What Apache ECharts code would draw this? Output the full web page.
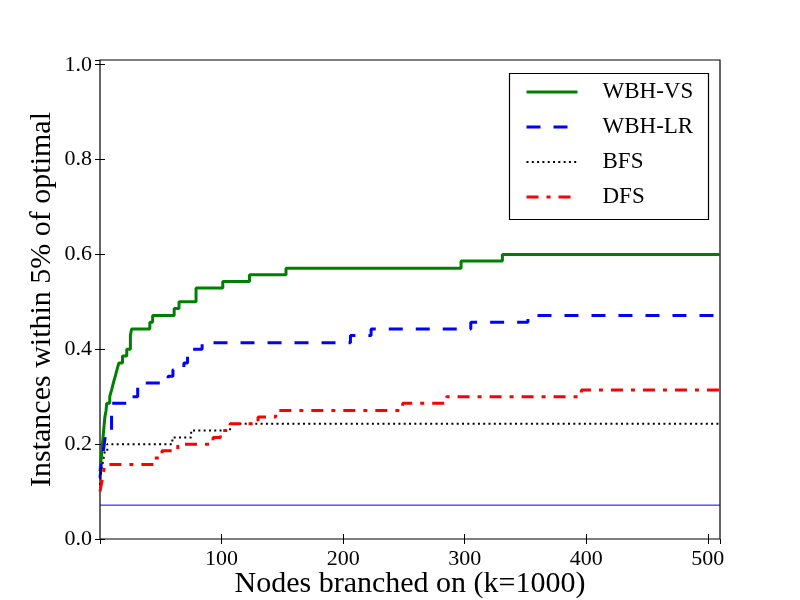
<!DOCTYPE html>
<html>
<head>
<meta charset="utf-8">
<script src="https://cdn.jsdelivr.net/npm/echarts@6/dist/echarts.min.js"></script>
<style>
  html, body { margin: 0; padding: 0; background: #fff; }
  #chart { width: 800px; height: 600px; }
</style>
</head>
<body>
<div id="chart"></div>
<script>
// step curves: [nodes branched (k), fraction of instances within 5%]
var wbhVs = [
  [0, 0.143], [1, 0.171], [2, 0.2], [3, 0.229], [4, 0.257], [5, 0.271],
  [5.5, 0.286], [8, 0.3], [9.5, 0.314], [11, 0.329], [12.5, 0.343],
  [14, 0.357], [15.5, 0.371], [18.5, 0.386], [22, 0.4], [25, 0.429],
  [26, 0.443], [41, 0.457], [43.3, 0.471], [61, 0.486], [65, 0.5],
  [79, 0.529], [101, 0.543], [123, 0.557], [153, 0.571], [297, 0.586],
  [331, 0.6], [510, 0.6]
];
var wbhLr = [
  [0, 0.129], [1, 0.157], [2, 0.171], [3.5, 0.2], [5, 0.229], [9.5, 0.286],
  [25, 0.3], [31, 0.329], [56, 0.343], [60, 0.357], [69, 0.371],
  [72, 0.386], [75, 0.4], [84, 0.414], [206, 0.429], [223, 0.443],
  [305, 0.457], [352, 0.471], [510, 0.471]
];
var bfs = [
  [0, 0.114], [1, 0.143], [2, 0.157], [3, 0.171], [4, 0.186], [6, 0.2],
  [59.5, 0.214], [75, 0.229], [107, 0.243], [510, 0.243]
];
var dfs = [
  [0, 0.1], [1, 0.114], [2, 0.129], [3, 0.143], [4, 0.157], [44.5, 0.171],
  [51, 0.186], [64, 0.2], [93, 0.214], [99, 0.229], [107, 0.243],
  [130, 0.257], [144.5, 0.271], [249, 0.286], [285, 0.3], [396, 0.314],
  [510, 0.314]
];
var baseline = 0.0714;
var xRange = [0, 510];
var yRange = [0, 1.01];
var names = ['WBH-VS', 'WBH-LR', 'BFS', 'DFS'];

var font = 'Liberation Serif';
var myChart = echarts.init(document.getElementById('chart'));

var tickOpts = { show: true, inside: true, length: 5, lineStyle: { color: '#000', width: 1 } };

var option = {
  animation: false,
  backgroundColor: '#fff',
  textStyle: { fontFamily: font, color: '#000' },
  grid: {
    left: 100, right: 80, top: 60, bottom: 61,
    outerBoundsMode: 'none',
    containLabel: false,
    show: true, borderColor: '#000', borderWidth: 1.2, backgroundColor: 'transparent'
  },
  graphic: [{
    type: 'rect',
    shape: { x: 509.5, y: 73.5, width: 199, height: 146 },
    style: { fill: '#fff', stroke: '#000', lineWidth: 1.2 },
    z: 3
  }],
  legend: {
    data: names,
    orient: 'vertical',
    left: 525,
    top: 80,
    padding: 0,
    itemWidth: 51,
    itemHeight: 24,
    itemGap: 11,
    z: 5,
    itemStyle: { opacity: 0 },
    lineStyle: { width: 'inherit' },
    textStyle: { fontFamily: font, fontSize: 23, color: '#000', lineHeight: 24, padding: [0, 0, 0, 20] }
  },
  xAxis: [{
    type: 'value',
    min: xRange[0], max: xRange[1], interval: 100,
    name: 'Nodes branched on (k=1000)',
    nameLocation: 'middle',
    nameGap: 30,
    nameMoveOverlap: false,
    nameTextStyle: { fontFamily: font, fontSize: 30, color: '#000' },
    axisLine: { show: false },
    axisTick: tickOpts,
    splitLine: { show: false },
    axisLabel: {
      fontFamily: font, fontSize: 22, color: '#000', margin: 9,
      showMinLabel: false, showMaxLabel: false
    }
  }, {
    type: 'value', position: 'top',
    min: xRange[0], max: xRange[1], interval: 100,
    axisLine: { show: false }, axisTick: tickOpts,
    splitLine: { show: false }, axisLabel: { show: false }
  }],
  yAxis: [{
    type: 'value',
    min: yRange[0], max: yRange[1], interval: 0.2,
    name: 'Instances within 5% of optimal',
    nameLocation: 'middle',
    nameGap: 43,
    nameMoveOverlap: false,
    nameTextStyle: { fontFamily: font, fontSize: 30, color: '#000' },
    axisLine: { show: false },
    axisTick: tickOpts,
    splitLine: { show: false },
    axisLabel: {
      fontFamily: font, fontSize: 22, color: '#000', margin: 8,
      showMaxLabel: false,
      formatter: function (v) { return v.toFixed(1); }
    }
  }, {
    type: 'value', position: 'right',
    min: yRange[0], max: yRange[1], interval: 0.2,
    axisLine: { show: false }, axisTick: tickOpts,
    splitLine: { show: false }, axisLabel: { show: false }
  }],
  series: [
    {
      name: 'baseline', type: 'line', step: 'end', symbol: 'none', silent: true,
      data: [[xRange[0], baseline], [xRange[1], baseline]],
      lineStyle: { color: '#0000ff', width: 1 }
    },
    {
      name: names[0], type: 'line', step: 'end', symbol: 'none',
      data: wbhVs, color: '#008000',
      lineStyle: { color: '#008000', width: 3 }
    },
    {
      name: names[1], type: 'line', step: 'end', symbol: 'none',
      data: wbhLr, color: '#0000ff',
      lineStyle: { color: '#0000ff', width: 3, type: [14, 13] }
    },
    {
      name: names[2], type: 'line', step: 'end', symbol: 'none',
      data: bfs, color: '#000000',
      lineStyle: { color: '#000000', width: 2, type: [2, 3.3] }
    },
    {
      name: names[3], type: 'line', step: 'end', symbol: 'none',
      data: dfs, color: '#ff0000',
      lineStyle: { color: '#ff0000', width: 3, type: [12, 8, 4, 8] }
    }
  ]
};

myChart.setOption(option);
</script>
</body>
</html>
